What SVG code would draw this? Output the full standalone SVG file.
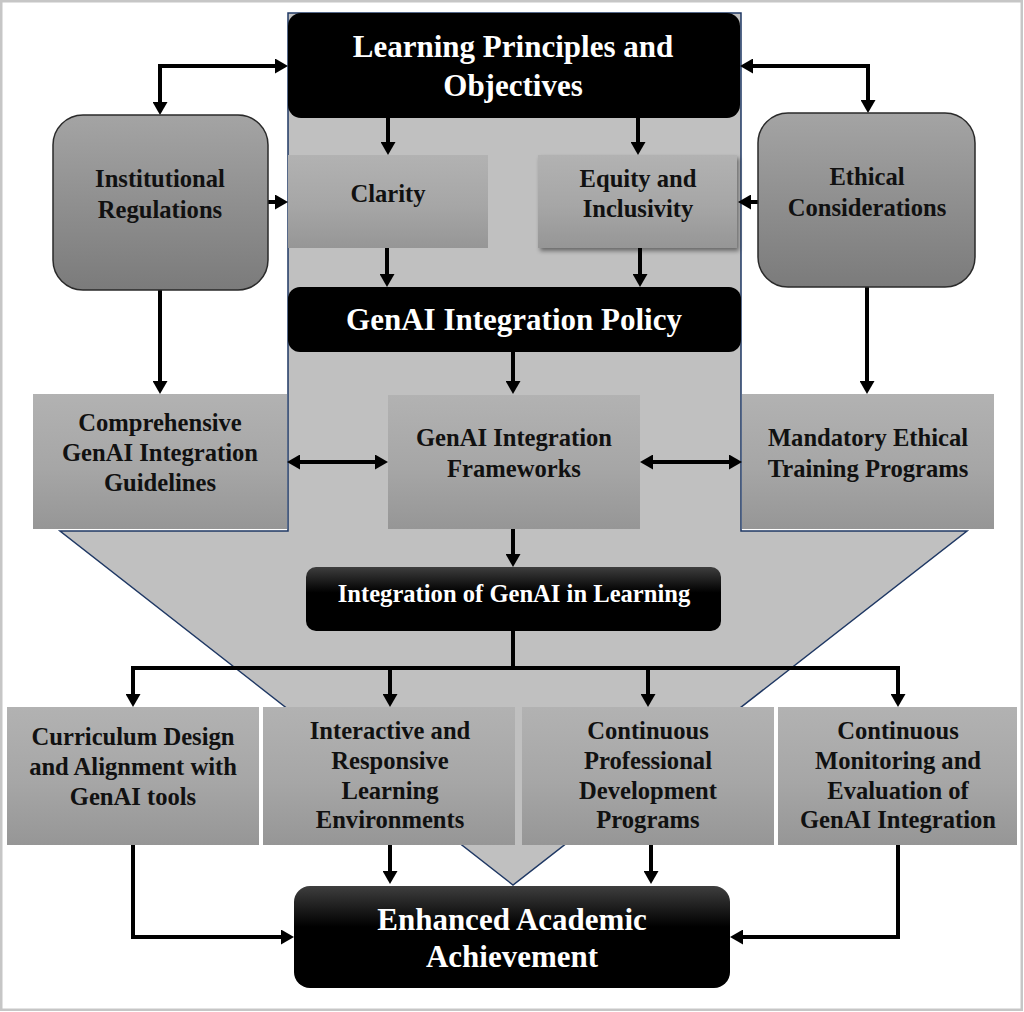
<svg xmlns="http://www.w3.org/2000/svg" width="1024" height="1012" viewBox="0 0 1024 1012">
<defs>
<style>
text{font-family:"Liberation Serif","Times New Roman",serif;font-weight:bold;text-anchor:middle}
.w{fill:#ffffff}
.k{fill:#111111}
.big{font-size:31px}
.mid{font-size:24.6px}
.gbox{fill:url(#gGray)}
.rbox{fill:url(#gRound);stroke:#2a2a2a;stroke-width:1.5}
.bbox{fill:#000000}
.bgrad{fill:url(#gBlack)}
.con{fill:none;stroke:#000000;stroke-width:4;stroke-linejoin:miter;stroke-linecap:butt}
.a1{marker-end:url(#ah)}
.a2{marker-start:url(#ah);marker-end:url(#ah)}
</style>
<linearGradient id="gGray" x1="0" y1="0" x2="0" y2="1">
<stop offset="0" stop-color="#b2b2b2"/>
<stop offset="0.55" stop-color="#a6a6a6"/>
<stop offset="1" stop-color="#969696"/>
</linearGradient>
<linearGradient id="gRound" x1="0" y1="0" x2="0" y2="1">
<stop offset="0" stop-color="#a4a4a4"/>
<stop offset="1" stop-color="#7b7b7b"/>
</linearGradient>
<linearGradient id="gBlack" x1="0" y1="0" x2="0" y2="1">
<stop offset="0" stop-color="#3e3e3e"/>
<stop offset="0.4" stop-color="#000000"/>
<stop offset="1" stop-color="#000000"/>
</linearGradient>
<filter id="shadow" x="-10%" y="-10%" width="130%" height="130%">
<feDropShadow dx="2" dy="3" stdDeviation="2" flood-color="#000" flood-opacity="0.45"/>
</filter>
<marker id="ah" viewBox="0 0 13 15" refX="0" refY="7.5" markerWidth="13" markerHeight="15" markerUnits="userSpaceOnUse" orient="auto-start-reverse">
<path d="M0,0 L13,7.5 L0,15 Z" fill="#000000"/>
</marker>
</defs>

<rect x="1.25" y="1.25" width="1020.5" height="1008.5" fill="#ffffff" stroke="#c6c6c6" stroke-width="2.5"/>

<g id="big-arrow">
<polygon points="288,13 741,13 741,531 967,531 513,885 60,531 288,531" fill="#c0c0c0" stroke="#1f3864" stroke-width="1.5"/>
</g>

<g id="connectors">
<path class="con a2" d="M160,102 V66 H275"/>
<path class="con a2" d="M753,66 H868 V100"/>
<path class="con a1" d="M388,118 V142"/>
<path class="con a1" d="M638,118 V142"/>
<path class="con a1" d="M387,248 V274"/>
<path class="con a1" d="M640,248 V274"/>
<path class="con a1" d="M268,202 H275"/>
<path class="con a1" d="M758,202 H751"/>
<path class="con a1" d="M160,290 V381"/>
<path class="con a1" d="M867,287 V381"/>
<path class="con a1" d="M513,352 V381"/>
<path class="con a2" d="M300,462 H375"/>
<path class="con a2" d="M653,462 H729"/>
<path class="con a1" d="M513,529 V554"/>
<path class="con" d="M513,631 V668"/>
<path class="con a2" d="M133,694 V668 H898 V694"/>
<path class="con a1" d="M390,668 V694"/>
<path class="con a1" d="M648,668 V694"/>
<path class="con a1" d="M133,845 V937 H281"/>
<path class="con a1" d="M390,845 V871"/>
<path class="con a1" d="M651,845 V871"/>
<path class="con a1" d="M898,845 V937 H743"/>
</g>

<g id="learning-principles">
<rect class="bbox" x="288" y="13" width="452" height="105" rx="13"/>
<text class="w big" x="513" y="57">Learning Principles and</text>
<text class="w big" x="513" y="96">Objectives</text>
</g>

<g id="clarity">
<rect class="gbox" x="288" y="155" width="200" height="93"/>
<text class="k mid" x="388" y="202">Clarity</text>
</g>

<g id="equity">
<rect class="gbox" x="538" y="155" width="199" height="93" filter="url(#shadow)"/>
<text class="k mid" x="638" y="187">Equity and</text>
<text class="k mid" x="638" y="217">Inclusivity</text>
</g>

<g id="institutional-regulations">
<rect class="rbox" x="53" y="115" width="215" height="175" rx="30"/>
<text class="k mid" x="160" y="187">Institutional</text>
<text class="k mid" x="160" y="218">Regulations</text>
</g>

<g id="ethical-considerations">
<rect class="rbox" x="758" y="113" width="217" height="174" rx="30"/>
<text class="k mid" x="867" y="185">Ethical</text>
<text class="k mid" x="867" y="216">Considerations</text>
</g>

<g id="genai-policy">
<rect class="bbox" x="288" y="287" width="453" height="65" rx="12"/>
<text class="w big" x="514" y="330">GenAI Integration Policy</text>
</g>

<g id="comprehensive-guidelines">
<rect class="gbox" x="33" y="394" width="254" height="135"/>
<text class="k mid" x="160" y="431">Comprehensive</text>
<text class="k mid" x="160" y="461">GenAI Integration</text>
<text class="k mid" x="160" y="491">Guidelines</text>
</g>

<g id="genai-frameworks">
<rect class="gbox" x="388" y="395" width="252" height="134"/>
<text class="k mid" x="514" y="446">GenAI Integration</text>
<text class="k mid" x="514" y="477">Frameworks</text>
</g>

<g id="mandatory-training">
<rect class="gbox" x="742" y="394" width="252" height="135"/>
<text class="k mid" x="868" y="446">Mandatory Ethical</text>
<text class="k mid" x="868" y="477">Training Programs</text>
</g>

<g id="integration-learning">
<rect class="bgrad" x="306" y="567" width="415" height="64" rx="10"/>
<text class="w mid" x="514" y="602">Integration of GenAI in Learning</text>
</g>

<g id="curriculum-design">
<rect class="gbox" x="7" y="707" width="252" height="138"/>
<text class="k mid" x="133" y="745">Curriculum Design</text>
<text class="k mid" x="133" y="775">and Alignment with</text>
<text class="k mid" x="133" y="805">GenAI tools</text>
</g>

<g id="interactive-environments">
<rect class="gbox" x="263" y="707" width="252" height="138"/>
<text class="k mid" x="390" y="739">Interactive and</text>
<text class="k mid" x="390" y="769">Responsive</text>
<text class="k mid" x="390" y="799">Learning</text>
<text class="k mid" x="390" y="828">Environments</text>
</g>

<g id="professional-development">
<rect class="gbox" x="522" y="707" width="252" height="138"/>
<text class="k mid" x="648" y="739">Continuous</text>
<text class="k mid" x="648" y="769">Professional</text>
<text class="k mid" x="648" y="799">Development</text>
<text class="k mid" x="648" y="828">Programs</text>
</g>

<g id="monitoring-evaluation">
<rect class="gbox" x="778" y="707" width="239" height="138"/>
<text class="k mid" x="898" y="739">Continuous</text>
<text class="k mid" x="898" y="769">Monitoring and</text>
<text class="k mid" x="898" y="799">Evaluation of</text>
<text class="k mid" x="898" y="828">GenAI Integration</text>
</g>

<g id="enhanced-achievement">
<rect class="bgrad" x="294" y="886" width="436" height="102" rx="16"/>
<text class="w big" x="512" y="930">Enhanced Academic</text>
<text class="w big" x="512" y="967">Achievement</text>
</g>
</svg>
